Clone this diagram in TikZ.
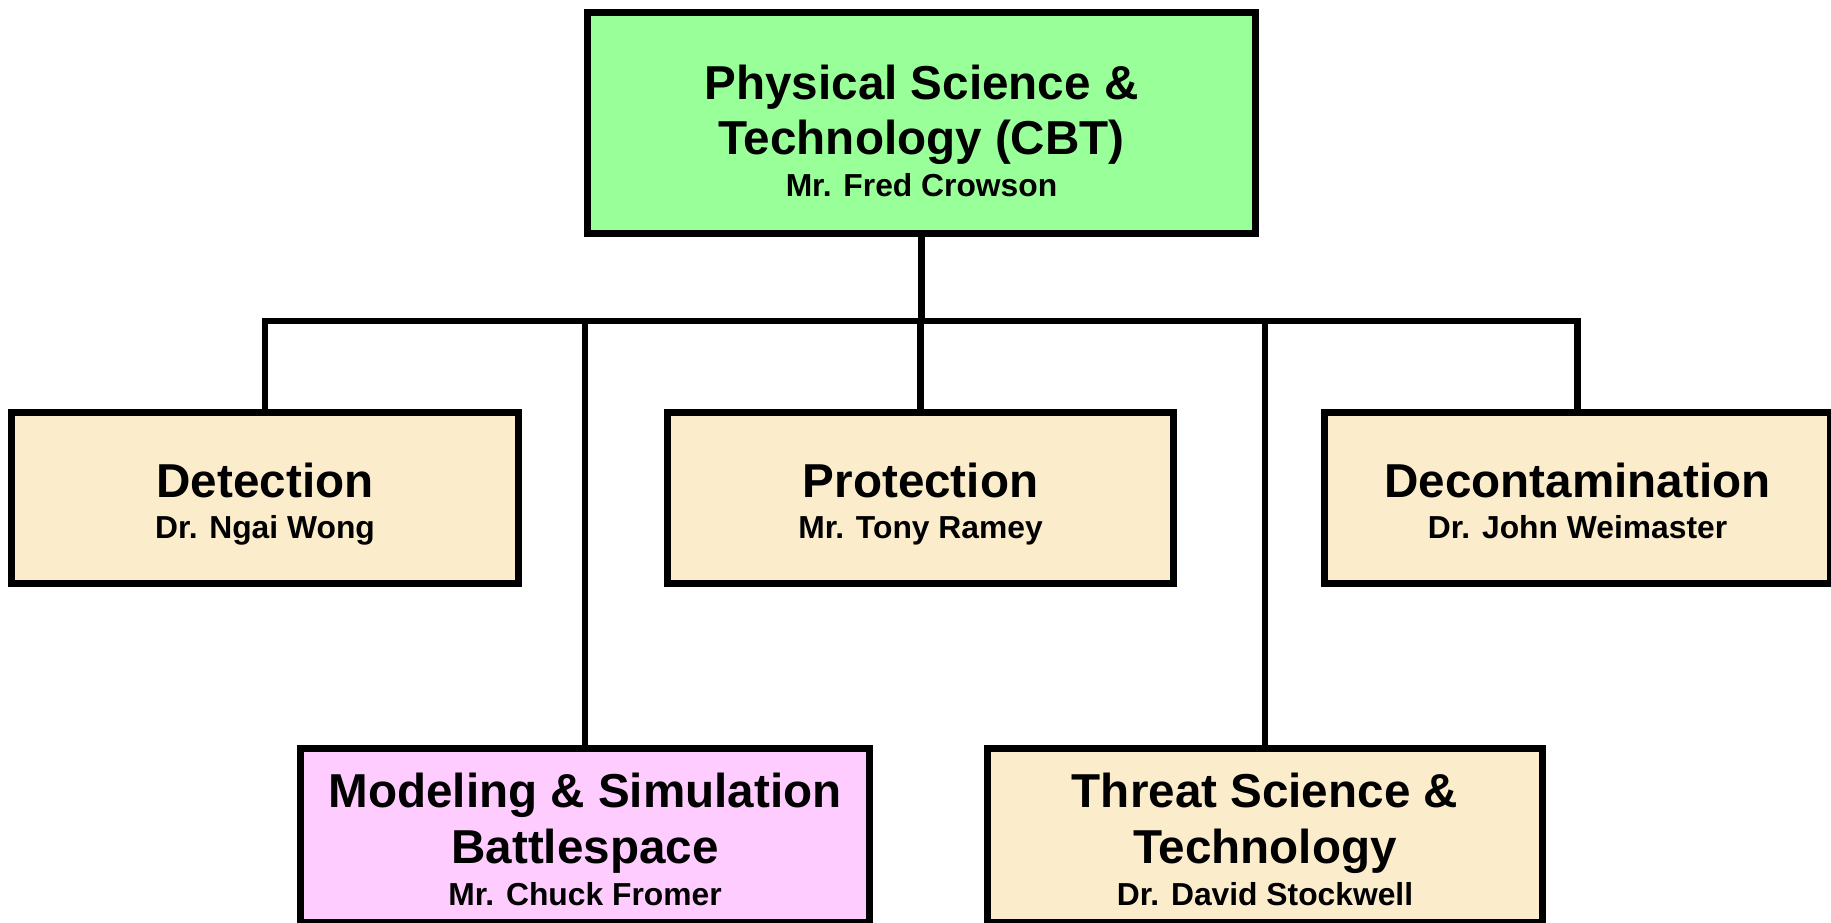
\documentclass[tikz,border=0pt]{standalone}
\usepackage{fontspec}
\setmainfont{Liberation Sans}
\definecolor{greenbox}{RGB}{153,255,153}
\definecolor{pinkbox}{RGB}{255,204,255}
\definecolor{beigebox}{RGB}{251,237,204}
\tikzset{
  orgbox/.style={draw=black, line width=7pt, rectangle, inner sep=0pt},
  conn/.style={draw=black, line width=6.5pt, line cap=rect},
  bigt/.style={font=\bfseries\fontsize{47.6}{55}\selectfont, anchor=base, inner sep=0pt},
  smallt/.style={font=\bfseries\fontsize{31.8}{38}\selectfont, anchor=base, inner sep=0pt},
}
\begin{document}
\begin{tikzpicture}[x=1pt,y=-1pt]
\useasboundingbox (0,0) rectangle (1831,922);
\clip (0,0) rectangle (1831,922);
\fill[white] (0,0) rectangle (1831,922);
% boxes
\node[orgbox, fill=greenbox, minimum width=668pt, minimum height=221pt] (top) at (921.5,122.5) {};
\node[orgbox, fill=beigebox, minimum width=507pt, minimum height=171pt] (det) at (265,497.5) {};
\node[orgbox, fill=beigebox, minimum width=506pt, minimum height=171pt] (prot) at (920.5,497.5) {};
\node[orgbox, fill=beigebox, minimum width=506pt, minimum height=171pt] (dec) at (1577.5,497.5) {};
\node[orgbox, fill=pinkbox, minimum width=569pt, minimum height=174pt] (mod) at (585,835) {};
\node[orgbox, fill=beigebox, minimum width=555pt, minimum height=174pt] (thr) at (1265,835) {};
% bus
\coordinate (bus) at (0,321);
\draw[conn] (top.south) -- (top.south |- bus);
\draw[conn] (det.north) -- (det.north |- bus) -- (dec.north |- bus) -- (dec.north);
\draw[conn] (prot.north) -- (prot.north |- bus);
\draw[conn] (mod.north) -- (mod.north |- bus);
\draw[conn] (thr.north) -- (thr.north |- bus);
% texts
\node[bigt] (topA) at (921.5,99) {Physical Science \&};
\node[bigt] (topB) at (921.5,154) {Technology (CBT)};
\node[smallt] (topC) at (921.5,196) {Mr. Fred Crowson};
\node[bigt] (detA) at (265,497) {Detection};
\node[smallt] (detB) at (265,538) {Dr. Ngai Wong};
\node[bigt] (protA) at (920.5,497) {Protection};
\node[smallt] (protB) at (920.5,538) {Mr. Tony Ramey};
\node[bigt] (decA) at (1577.5,497) {Decontamination};
\node[smallt] (decB) at (1577.5,538) {Dr. John Weimaster};
\node[bigt] (modA) at (585,807) {Modeling \& Simulation};
\node[bigt] (modB) at (585,863) {Battlespace};
\node[smallt] (modC) at (585,905) {Mr. Chuck Fromer};
\node[bigt] (thrA) at (1265,807) {Threat Science \&};
\node[bigt] (thrB) at (1265,863) {Technology};
\node[smallt] (thrC) at (1265,905) {Dr. David Stockwell};
\end{tikzpicture}
\end{document}
